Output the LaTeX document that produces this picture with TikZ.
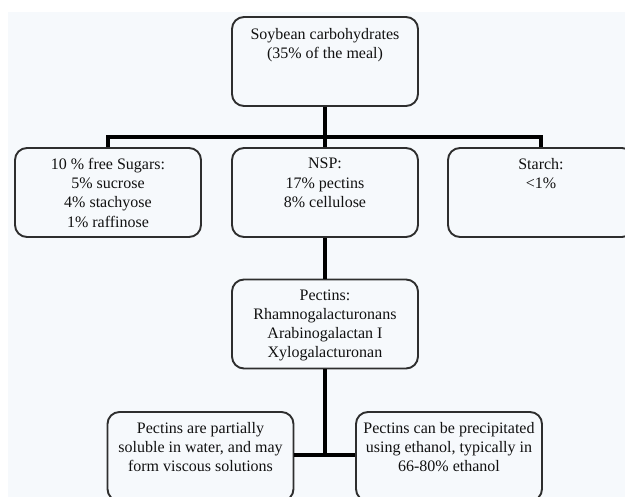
\documentclass[tikz,border=0pt]{standalone}
\usepackage{fontspec}
\setmainfont{Liberation Serif}
\definecolor{bgc}{HTML}{F6F9FC}
\definecolor{boxc}{HTML}{2E2E2E}
\definecolor{txtc}{HTML}{111111}
\begin{document}
\begin{tikzpicture}[x=1pt,y=-1pt,
  boxs/.style={draw=boxc, line width=1.9pt, fill=bgc, rounded corners=12pt,
    minimum width=186pt, minimum height=89pt, inner sep=0pt},
  txt/.style={anchor=north, align=center, inner sep=0pt, text=txtc,
    font=\fontsize{16}{19.2}\selectfont},
  conn/.style={line width=3.8pt, black}]
\useasboundingbox (0,0) rectangle (625,497);
\fill[white] (0,0) rectangle (625,497);
\fill[bgc] (8,12) rectangle (625,497);
\clip (0,0) rectangle (625,497);
% boxes
\node[boxs] (top) at (325,61.5) {};
\node[boxs] (sug) at (108,192.5) {};
\node[boxs] (nsp) at (325,192.5) {};
\node[boxs] (sta) at (541,192.5) {};
\node[boxs] (pec) at (325,324) {};
\node[boxs] (sol) at (200.5,456.5) {};
\node[boxs] (pre) at (449,456.5) {};
% texts
\node[txt] (ttop) at ([yshift=-12pt]top.north) {Soybean carbohydrates\\(35\% of the meal)};
\node[txt] (tsug) at ([yshift=-11pt]sug.north) {10 \% free Sugars:\\5\% sucrose\\4\% stachyose\\1\% raffinose};
\node[txt] (tnsp) at ([yshift=-11pt]nsp.north) {NSP:\\17\% pectins\\8\% cellulose};
\node[txt] (tsta) at ([yshift=-11pt]sta.north) {Starch:\\<1\%};
\node[txt] (tpec) at ([yshift=-11pt]pec.north) {Pectins:\\Rhamnogalacturonans\\Arabinogalactan I\\Xylogalacturonan};
\node[txt] (tsol) at ([yshift=-11pt]sol.north) {Pectins are partially\\soluble in water, and may\\form viscous solutions};
\node[txt] (tpre) at ([yshift=-11pt]pre.north) {Pectins can be precipitated\\using ethanol, typically in\\66-80\% ethanol};
% connectors
\coordinate (bar) at (325,137);
\coordinate (joint) at (325,455);
\draw[conn] (top.south) -- (bar);
\draw[conn] (sug.north) |- (bar) -| (sta.north);
\draw[conn] (bar) -- (nsp.north);
\draw[conn] (nsp.south) -- (pec.north);
\draw[conn] (pec.south) -- (joint);
\draw[conn] (sol.east |- joint) -- (pre.west |- joint);
\end{tikzpicture}
\end{document}
